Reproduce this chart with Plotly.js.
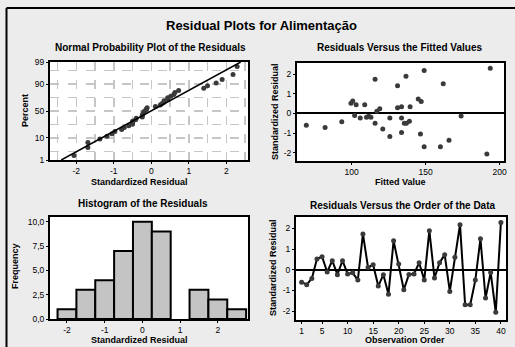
<!DOCTYPE html>
<html>
<head>
<meta charset="utf-8">
<script src="https://cdn.plot.ly/plotly-3.0.1.min.js"></script>
<style>html,body{margin:0;padding:0;background:#ececec;}#chart{width:515px;height:347px;}</style>
</head>
<body>
<div id="chart"></div>
<script>
// Standardized residuals in observation order (1..40)
var observationOrder = [1,2,3,4,5,6,7,8,9,10,11,12,13,14,15,16,17,18,19,20,21,22,23,24,25,26,27,28,29,30,31,32,33,34,35,36,37,38,39,40];
var stdResiduals = [-0.60,-0.72,-0.42,0.52,0.63,-0.11,0.44,-0.24,0.44,-0.20,
                    -0.15,-0.50,1.73,0.11,0.24,-0.79,-0.24,-1.18,1.40,0.28,
                    -0.97,-0.23,-0.20,0.34,-0.50,1.89,-0.40,0.34,0.73,-1.05,
                    0.60,2.18,-1.69,-1.69,-0.50,1.50,-1.37,-0.13,-2.06,2.29];
var fittedValues = [69.3,82,93.3,99.5,100.7,102,103,105.8,108.8,110,
                    111.5,115.8,115.8,117,119,121,125.8,125.8,131,131,
                    133.7,133.7,113,133.7,135.6,136.7,139,139.5,145,146.5,
                    147,149,149,160,137,161.9,165.8,174,191.4,193.7];
var percentTicks = [1,10,50,90,99];
var residTicks = [-2,-1,0,1,2];
var residTickText = ['-2','-1','0','1','2'];
var fittedTicks = [100,150,200];
var orderTicks = [1,5,10,15,20,25,30,35,40];
var freqTicks = [0,2.5,5,7.5,10];
var freqTickText = ['0,0','2,5','5,0','7,5','10,0'];

// inverse normal CDF (Acklam)
function qnorm(p){
  var a=[-3.969683028665376e+01,2.209460984245205e+02,-2.759285104469687e+02,1.383577518672690e+02,-3.066479806614716e+01,2.506628277459239e+00];
  var b=[-5.447609879822406e+01,1.615858368580409e+02,-1.556989798598866e+02,6.680131188771972e+01,-1.328068155288572e+01];
  var c=[-7.784894002430293e-03,-3.223964580411365e-01,-2.400758277161838e+00,-2.549732539343734e+00,4.374664141464968e+00,2.938163982698783e+00];
  var d=[7.784695709041462e-03,3.224671290700398e-01,2.445134137142996e+00,3.754408661907416e+00];
  var pl=0.02425,q,r;
  if(p<pl){q=Math.sqrt(-2*Math.log(p));return (((((c[0]*q+c[1])*q+c[2])*q+c[3])*q+c[4])*q+c[5])/((((d[0]*q+d[1])*q+d[2])*q+d[3])*q+1);}
  if(p>1-pl){q=Math.sqrt(-2*Math.log(1-p));return -(((((c[0]*q+c[1])*q+c[2])*q+c[3])*q+c[4])*q+c[5])/((((d[0]*q+d[1])*q+d[2])*q+d[3])*q+1);}
  q=p-0.5;r=q*q;
  return (((((a[0]*r+a[1])*r+a[2])*r+a[3])*r+a[4])*r+a[5])*q/(((((b[0]*r+b[1])*r+b[2])*r+b[3])*r+b[4])*r+1);
}

var n = stdResiduals.length;
var sorted = stdResiduals.slice().sort(function(a,b){return a-b;});
var zScores = sorted.map(function(v,i){return qnorm((i+1-0.3)/(n+0.4));});
var mean = stdResiduals.reduce(function(s,v){return s+v;},0)/n;
var sd = Math.sqrt(stdResiduals.reduce(function(s,v){return s+(v-mean)*(v-mean);},0)/(n-1));
var zLo = qnorm(0.01), zHi = qnorm(0.99);
var lineZ = [zLo, zHi];
var lineX = lineZ.map(function(z){return mean+sd*z;});
var pctTickVals = percentTicks.map(function(p){return qnorm(p/100);});
var zStep = qnorm(0.9)/2;
var zGrid = [-3,-2,-1,0,1,2,3].map(function(k){return k*zStep;});

var W=515,H=347;
function dx(a,b){return [a/W,b/W];}
function dy(top,bottom){return [1-bottom/H,1-top/H];}

var FONT = 'Liberation Sans, Arial, sans-serif';
var markerCol = '#3a3a3a';

var traces = [
  {type:'scatter',mode:'markers',x:sorted,y:zScores,xaxis:'x',yaxis:'y',
   marker:{color:markerCol,size:5},hoverinfo:'skip'},
  {type:'scatter',mode:'lines',x:lineX,y:lineZ,xaxis:'x',yaxis:'y',
   line:{color:'#000',width:1.5},hoverinfo:'skip'},
  {type:'scatter',mode:'markers',x:fittedValues,y:stdResiduals,xaxis:'x2',yaxis:'y2',
   marker:{color:markerCol,size:5},hoverinfo:'skip'},
  {type:'histogram',x:stdResiduals,xaxis:'x3',yaxis:'y3',
   xbins:{start:-2.25,end:2.75,size:0.5},
   marker:{color:'#c4c4c4',line:{color:'#000',width:2}},hoverinfo:'skip'},
  {type:'scatter',mode:'lines+markers',x:observationOrder,y:stdResiduals,xaxis:'x4',yaxis:'y4',
   line:{color:'#000',width:2},marker:{color:markerCol,size:5},hoverinfo:'skip'}
];

var axBase = {showline:true,mirror:true,linecolor:'#000',linewidth:2,ticks:'outside',ticklen:2,tickwidth:1,
  tickcolor:'#000',tickfont:{family:FONT,size:8.5,color:'#000'},showgrid:false,zeroline:false,fixedrange:true};
function ax(o){var r={};for(var k in axBase)r[k]=axBase[k];for(var k2 in o)r[k2]=o[k2];return r;}

var gridCol = '#c6c6c6';
var layout = {
  width:W,height:H,margin:{l:0,r:0,t:0,b:0},
  paper_bgcolor:'#ececec',plot_bgcolor:'#fff',showlegend:false,
  bargap:0,
  font:{family:FONT,color:'#000'},
  xaxis:ax({domain:dx(50,248),anchor:'y',range:[-2.7,2.58],tickvals:residTicks,ticktext:residTickText,
    showgrid:true,gridcolor:gridCol,griddash:'dash',gridwidth:1.5,
    minor:{dtick:0.5,tick0:0,showgrid:true,gridcolor:gridCol,griddash:'dash',gridwidth:1.5,ticks:''}}),
  yaxis:ax({domain:dy(62,160),anchor:'x',range:[zLo,zHi],tickvals:pctTickVals,ticktext:percentTicks.map(String),
    minor:{tickvals:zGrid,showgrid:true,gridcolor:gridCol,griddash:'dash',gridwidth:1.5,ticks:''}}),
  xaxis2:ax({domain:dx(297,504),anchor:'y2',range:[63,203],tickvals:fittedTicks}),
  yaxis2:ax({domain:dy(63,161),anchor:'x2',range:[-2.42,2.56],tickvals:residTicks,ticktext:residTickText,
    zeroline:true,zerolinecolor:'#000',zerolinewidth:2}),
  xaxis3:ax({domain:dx(50,248),anchor:'y3',range:[-2.45,2.8],tickvals:residTicks,ticktext:residTickText}),
  yaxis3:ax({domain:dy(217,319),anchor:'x3',range:[0,10.5],tickvals:freqTicks,ticktext:freqTickText}),
  xaxis4:ax({domain:dx(296,506),anchor:'y4',range:[-0.1,41],tickvals:orderTicks}),
  yaxis4:ax({domain:dy(217,320),anchor:'x4',range:[-2.43,2.55],tickvals:residTicks,ticktext:residTickText,
    zeroline:true,zerolinecolor:'#000',zerolinewidth:2}),
  shapes:[
    {type:'line',xref:'paper',yref:'paper',x0:6.5/W,x1:6.5/W,y0:0,y1:1-8/H,line:{color:'#000',width:2}},
    {type:'line',xref:'paper',yref:'paper',x0:6.5/W,x1:1,y0:1-8/H,y1:1-8/H,line:{color:'#000',width:2}}
  ],
  annotations:[]
};
function ann(text,xp,yp,size,rot){
  layout.annotations.push({text:'<b>'+text+'</b>',xref:'paper',yref:'paper',x:xp/W,y:1-yp/H,
    xanchor:'center',yanchor:'middle',showarrow:false,textangle:rot||0,
    font:{family:FONT,size:size,color:'#000'}});
}
ann('Residual Plots for Alimentação',261,26,13);
ann('Normal Probability Plot of the Residuals',150,48,10);
ann('Residuals Versus the Fitted Values',400,48,10);
ann('Histogram of the Residuals',143,203,10);
ann('Residuals Versus the Order of the Data',402,205,10);
ann('Percent',25,111,9,-90);
ann('Standardized Residual',139,182,9);
ann('Fitted Value',400,182,9);
ann('Standardized Residual',275,112,9,-90);
ann('Frequency',15,266,9,-90);
ann('Standardized Residual',139,340,9);
ann('Observation Order',405,340,9);
ann('Standardized Residual',273,268,9,-90);

Plotly.newPlot('chart',traces,layout,{displayModeBar:false,staticPlot:true});
</script>
</body>
</html>
